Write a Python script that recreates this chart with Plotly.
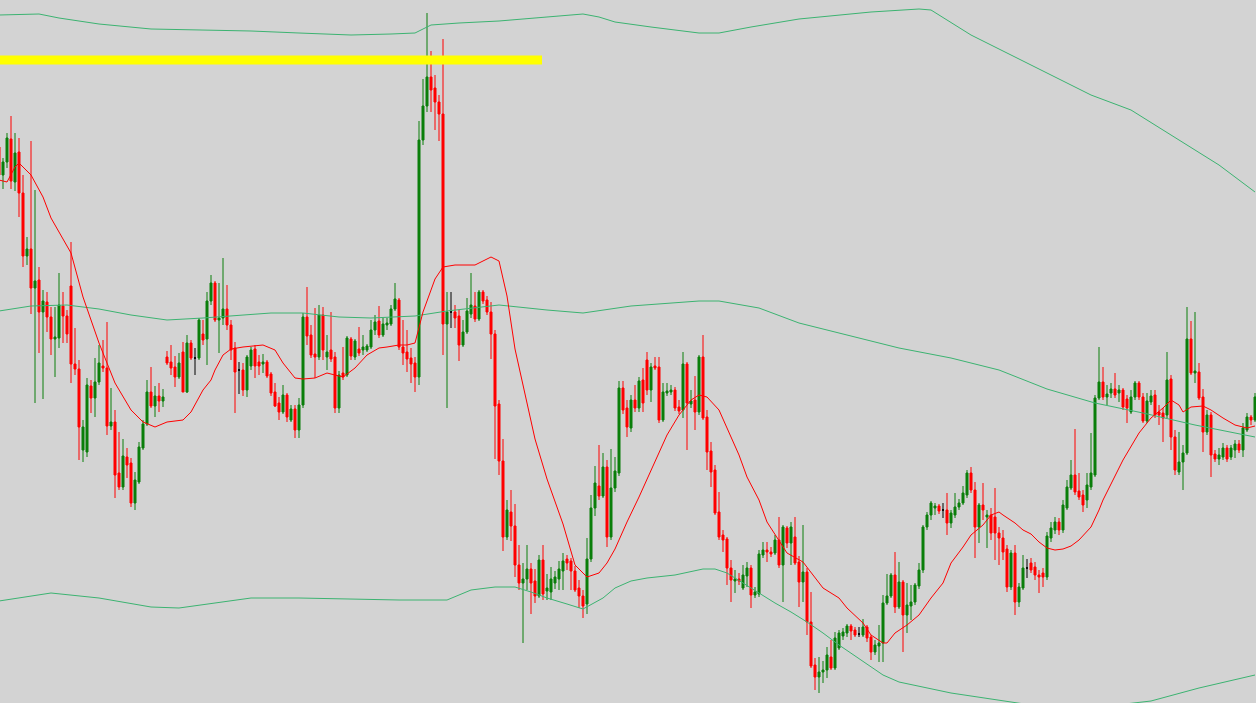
import plotly.graph_objects as go

# ---- candle data (price points), one entry per bar ----
open_ = [853, 825, 838, 861, 818, 848, 807, 744, 751, 712,
         720, 688, 698, 683, 661, 662, 694, 684, 714, 636,
         631, 550, 548, 614, 602, 618, 634, 632, 574, 578,
         527, 513, 543, 537, 497, 518, 552, 576, 608, 594,
         604, 599, 643, 638, 633, 623, 648, 608, 657, 642,
         642, 666, 661, 699, 717, 680, 682, 691, 675, 652,
         630, 630, 610, 634, 651, 638, 636, 638, 626, 608,
         597, 588, 605, 580, 591, 570, 595, 683, 665, 646,
         643, 685, 643, 650, 643, 592, 627, 625, 661, 643,
         651, 650, 650, 653, 670, 679, 665, 675, 676, 691,
         700, 653, 648, 642, 637, 623, 860, 894, 923, 912,
         898, 886, 676, 688, 688, 684, 655, 668, 686, 694,
         681, 708, 700, 688, 666, 596, 539, 463, 488, 474,
         435, 417, 421, 431, 419, 404, 440, 409, 408, 417,
         421, 429, 441, 439, 429, 412, 404, 396, 441, 492,
         514, 504, 533, 463, 512, 527, 612, 592, 572, 600,
         592, 620, 640, 610, 634, 633, 580, 607, 608, 610,
         593, 590, 636, 596, 600, 588, 643, 583, 549, 530,
         488, 465, 461, 432, 419, 421, 412, 424, 432, 405,
         406, 445, 450, 448, 447, 460, 435, 472, 457, 463,
         438, 418, 428, 378, 335, 323, 328, 330, 343, 332,
         352, 364, 367, 374, 370, 366, 365, 373, 363, 348,
         354, 357, 397, 404, 425, 393, 418, 385, 394, 398,
         414, 430, 473, 485, 492, 494, 490, 490, 477, 485,
         493, 497, 505, 527, 510, 473, 495, 483, 485, 483,
         467, 462, 451, 413, 447, 398, 412, 432, 437, 433,
         425, 427, 423, 462, 470, 478, 470, 492, 512, 525,
         509, 505, 500, 513, 525, 602, 618, 603, 607, 611,
         607, 610, 601, 588, 603, 617, 603, 579, 598, 605,
         588, 587, 585, 621, 563, 528, 538, 547, 661, 627,
         628, 603, 568, 585, 546, 541, 543, 552, 543, 550,
         556, 550, 570, 583, 580]

high = [860, 842, 867, 884, 867, 862, 825, 763, 859, 810,
        733, 710, 708, 693, 693, 727, 708, 690, 758, 672,
        640, 580, 622, 620, 642, 655, 660, 678, 612, 590,
        568, 561, 552, 542, 528, 558, 580, 620, 633, 614,
        617, 611, 649, 655, 644, 647, 658, 665, 660, 652,
        682, 680, 708, 725, 719, 717, 742, 715, 680, 658,
        638, 637, 645, 653, 655, 645, 646, 640, 628, 617,
        603, 615, 607, 595, 595, 602, 687, 713, 675, 692,
        695, 693, 665, 688, 648, 629, 653, 664, 663, 661,
        673, 665, 656, 680, 685, 694, 682, 682, 695, 717,
        702, 680, 670, 652, 643, 879, 921, 987, 949, 925,
        905, 961, 708, 708, 695, 690, 680, 702, 727, 708,
        710, 710, 704, 698, 670, 600, 561, 500, 510, 496,
        455, 437, 455, 437, 431, 445, 455, 426, 433, 429,
        439, 447, 445, 442, 434, 420, 410, 462, 505, 534,
        555, 547, 540, 551, 543, 619, 619, 600, 605, 615,
        623, 632, 648, 637, 643, 643, 617, 617, 615, 613,
        600, 648, 638, 610, 624, 645, 665, 590, 558, 535,
        508, 470, 463, 440, 430, 427, 435, 438, 435, 413,
        450, 458, 458, 453, 465, 483, 475, 474, 478, 483,
        444, 475, 432, 408, 342, 343, 339, 353, 360, 368,
        370, 372, 376, 376, 373, 373, 381, 375, 365, 360,
        375, 405, 426, 427, 448, 438, 420, 417, 415, 417,
        437, 475, 488, 499, 497, 496, 497, 507, 490, 507,
        501, 514, 530, 533, 518, 497, 517, 490, 492, 512,
        473, 470, 455, 450, 455, 417, 445, 441, 442, 438,
        430, 432, 468, 478, 483, 482, 500, 520, 540, 571,
        527, 510, 527, 567, 605, 653, 633, 615, 617, 627,
        615, 612, 605, 610, 619, 619, 607, 607, 610, 610,
        595, 592, 648, 625, 570, 568, 555, 693, 679, 688,
        637, 611, 590, 588, 550, 552, 557, 555, 555, 560,
        560, 577, 587, 585, 607]

low = [815, 811, 832, 811, 809, 783, 733, 735, 686, 597,
       647, 601, 668, 645, 623, 652, 657, 657, 617, 625,
       540, 538, 543, 587, 583, 615, 628, 565, 570, 502,
       510, 510, 522, 493, 490, 516, 550, 574, 592, 583,
       588, 593, 635, 625, 613, 621, 608, 607, 640, 625,
       640, 655, 635, 695, 678, 647, 675, 670, 640, 587,
       606, 604, 603, 630, 622, 625, 627, 622, 604, 593,
       580, 586, 578, 578, 562, 562, 592, 655, 642, 622,
       640, 640, 630, 638, 587, 587, 620, 623, 640, 640,
       644, 645, 648, 651, 665, 662, 663, 670, 674, 689,
       650, 635, 628, 617, 608, 615, 855, 888, 888, 870,
       859, 645, 592, 672, 672, 639, 653, 666, 682, 678,
       679, 696, 685, 641, 541, 525, 449, 460, 459, 423,
       410, 357, 410, 386, 397, 402, 400, 400, 400, 411,
       410, 410, 430, 410, 408, 392, 382, 386, 438, 484,
       500, 502, 453, 460, 508, 524, 586, 563, 568, 588,
       588, 588, 605, 598, 630, 577, 578, 604, 605, 589,
       586, 582, 550, 592, 570, 585, 580, 530, 513, 485,
       460, 448, 415, 398, 407, 415, 410, 413, 392, 402,
       403, 442, 438, 443, 445, 432, 398, 452, 435, 435,
       393, 398, 365, 332, 310, 307, 317, 322, 330, 330,
       350, 360, 363, 360, 363, 363, 363, 358, 340, 345,
       338, 338, 395, 402, 387, 391, 348, 367, 380, 395,
       411, 427, 470, 480, 485, 486, 482, 465, 472, 482,
       490, 495, 502, 507, 442, 457, 480, 452, 460, 440,
       435, 440, 408, 410, 385, 393, 410, 422, 427, 420,
       407, 413, 420, 458, 466, 465, 467, 490, 510, 505,
       500, 488, 492, 510, 523, 600, 600, 595, 602, 602,
       598, 590, 577, 586, 600, 600, 577, 577, 595, 582,
       575, 558, 582, 550, 525, 525, 510, 545, 625, 617,
       600, 548, 565, 523, 538, 535, 540, 538, 540, 542,
       547, 543, 568, 575, 578]

close = [825, 838, 862, 819, 847, 807, 744, 751, 712, 719,
         688, 699, 683, 661, 663, 695, 684, 666, 636, 631,
         573, 573, 615, 602, 618, 637, 632, 574, 578, 525,
         513, 544, 535, 497, 520, 553, 576, 608, 594, 604,
         599, 603, 637, 632, 623, 637, 608, 657, 642, 642,
         680, 660, 699, 717, 680, 682, 691, 675, 650, 628,
         630, 610, 643, 650, 634, 634, 638, 624, 607, 594,
         588, 605, 583, 591, 570, 595, 683, 664, 645, 643,
         685, 650, 648, 641, 592, 625, 623, 662, 644, 659,
         647, 653, 654, 670, 678, 665, 676, 677, 691, 701,
         653, 647, 641, 636, 623, 860, 894, 923, 910, 898,
         886, 676, 688, 688, 682, 655, 668, 689, 695, 681,
         708, 699, 688, 666, 594, 539, 463, 490, 474, 435,
         417, 421, 431, 417, 404, 440, 406, 412, 421, 423,
         431, 439, 437, 429, 410, 404, 394, 441, 492, 517,
         504, 533, 463, 512, 529, 612, 590, 573, 600, 592,
         619, 597, 610, 633, 632, 580, 608, 609, 610, 592,
         589, 636, 597, 599, 588, 643, 582, 548, 528, 487,
         463, 460, 432, 420, 421, 419, 425, 432, 405, 408,
         446, 450, 448, 446, 460, 435, 473, 457, 473, 437,
         418, 428, 378, 334, 323, 328, 330, 345, 332, 362,
         367, 368, 374, 369, 365, 366, 373, 362, 348, 355,
         357, 397, 404, 425, 393, 418, 385, 395, 398, 415,
         430, 473, 485, 497, 494, 489, 490, 477, 487, 493,
         497, 507, 527, 510, 473, 495, 490, 485, 467, 467,
         462, 448, 413, 447, 398, 413, 432, 432, 430, 425,
         423, 423, 464, 472, 478, 470, 495, 513, 525, 508,
         503, 495, 515, 527, 602, 618, 603, 606, 611, 605,
         610, 593, 592, 603, 617, 603, 579, 599, 604, 585,
         585, 582, 620, 563, 530, 538, 547, 661, 627, 629,
         602, 568, 585, 545, 541, 545, 552, 541, 552, 556,
         550, 572, 583, 580, 603]

# ---- moving average (red), read at selected bars ----
ma_idx = [0, 2, 4, 5, 8, 11, 13, 18, 21, 25, 29, 33, 36, 39, 42, 46, 48, 51, 53, 54,
          56, 58, 61, 66, 69, 71, 74, 76, 79, 82, 86, 89, 92, 95, 97, 100, 102, 104, 106, 109,
          111, 114, 119, 122, 123, 125, 127, 129, 131, 134, 137, 141, 144, 147, 150, 152, 154, 157, 160, 163,
          167, 170, 173, 175, 177, 180, 182, 185, 187, 190, 192, 195, 197, 201, 203, 206, 210, 212, 216, 218,
          221, 222, 224, 227, 230, 233, 236, 238, 241, 243, 246, 248, 250, 251, 254, 256, 258, 260, 262, 264,
          266, 268, 270, 273, 275, 276, 281, 285, 288, 291, 293, 295, 296, 298, 301, 303, 306, 309, 312, 314]
ma_val = [820, 818, 833, 837, 825, 803, 782, 747, 703, 657, 617, 590, 578, 573, 578, 580, 588, 610, 620, 630,
          645, 651, 653, 655, 650, 637, 622, 621, 622, 627, 623, 632, 645, 652, 653, 655, 655, 657, 688, 721,
          733, 735, 735, 741, 743, 739, 704, 651, 615, 561, 521, 476, 435, 423, 427, 437, 451, 478, 503, 530,
          565, 585, 600, 605, 603, 590, 572, 545, 523, 500, 478, 460, 447, 438, 428, 412, 402, 392, 377, 365,
          357, 357, 367, 375, 385, 402, 417, 437, 453, 465, 475, 485, 488, 485, 477, 470, 466, 458, 452, 450,
          451, 454, 460, 473, 490, 500, 540, 567, 582, 592, 600, 595, 588, 593, 594, 590, 582, 575, 572, 574]

# ---- envelope bands (green) ----
up_idx = [0, 10, 15, 25, 38, 50, 63, 75, 88, 98, 104, 108, 115, 125, 135, 146, 150, 154, 163, 175,
          180, 188, 200, 218, 230, 233, 243, 258, 273, 283, 295, 305, 314]
up_val = [985, 986, 982, 976, 971, 970, 969, 967, 965, 966, 967, 975, 977, 979, 982, 986, 983, 978, 973, 967,
          967, 973, 981, 988, 991, 990, 965, 935, 905, 890, 860, 835, 808]

mid_idx = [0, 8, 17, 25, 33, 42, 51, 68, 76, 85, 93, 104, 112, 125, 137, 146, 158, 175, 180, 190,
           200, 213, 225, 238, 250, 262, 274, 286, 299, 314]
mid_val = [689, 694, 695, 691, 685, 680, 682, 687, 687, 683, 682, 684, 689, 695, 690, 687, 694, 699, 699, 692,
           677, 664, 652, 642, 630, 611, 597, 587, 575, 563]

low_idx = [0, 13, 25, 38, 45, 63, 75, 100, 112, 118, 124, 129, 133, 137, 142, 146, 151, 154, 158, 162,
           169, 176, 179, 182, 186, 190, 194, 198, 202, 206, 210, 221, 225, 238, 250, 263, 275, 288, 300, 314]
low_val = [399, 407, 402, 393, 392, 402, 402, 400, 400, 410, 413, 413, 408, 402, 396, 391, 402, 412, 419, 422,
           425, 431, 431, 427, 417, 407, 397, 388, 378, 367, 355, 325, 318, 307, 300, 292, 293, 299, 312, 325]

# ---- horizontal yellow level ----
level_x = [0.25, 135.75]
level_y = [940, 940]

x = list(range(len(open_)))
doji = [i for i in x if open_[i] == close[i]]
norm = [i for i in x if open_[i] != close[i]]

GREEN = "#0A7F0A"
RED = "#FF0000"
BAND = "#3CB371"

fig = go.Figure()
fig.add_trace(go.Scatter(x=level_x, y=level_y, mode="lines",
                         line=dict(color="#FFFF00", width=9), hoverinfo="skip"))
fig.add_trace(go.Candlestick(
    x=[x[i] for i in norm], open=[open_[i] for i in norm], high=[high[i] for i in norm],
    low=[low[i] for i in norm], close=[close[i] for i in norm],
    increasing=dict(line=dict(color=GREEN, width=1), fillcolor=GREEN),
    decreasing=dict(line=dict(color=RED, width=1), fillcolor=RED),
    whiskerwidth=0, hoverinfo="skip"))
fig.add_trace(go.Candlestick(
    x=[x[i] for i in doji], open=[open_[i] for i in doji], high=[high[i] for i in doji],
    low=[low[i] for i in doji], close=[close[i] for i in doji],
    increasing=dict(line=dict(color="black", width=1), fillcolor="black"),
    decreasing=dict(line=dict(color="black", width=1), fillcolor="black"),
    whiskerwidth=0, hoverinfo="skip"))
for xi, yi in ((up_idx, up_val), (mid_idx, mid_val), (low_idx, low_val)):
    fig.add_trace(go.Scatter(x=xi, y=yi, mode="lines", line=dict(color=BAND, width=1),
                             hoverinfo="skip"))
fig.add_trace(go.Scatter(x=ma_idx, y=ma_val, mode="lines", line=dict(color=RED, width=1),
                         hoverinfo="skip"))

fig.update_layout(
    width=1256, height=703, margin=dict(l=0, r=0, t=0, b=0),
    paper_bgcolor="#D3D3D3", plot_bgcolor="#D3D3D3", showlegend=False,
    boxgap=0.5, boxgroupgap=0,
    xaxis=dict(visible=False, range=[0.25, 314.25], rangeslider=dict(visible=False)),
    yaxis=dict(visible=False, range=[297, 1000]),
)
fig.write_html("out.html", config={"displayModeBar": False},
               post_script="document.body.style.margin='0';")
